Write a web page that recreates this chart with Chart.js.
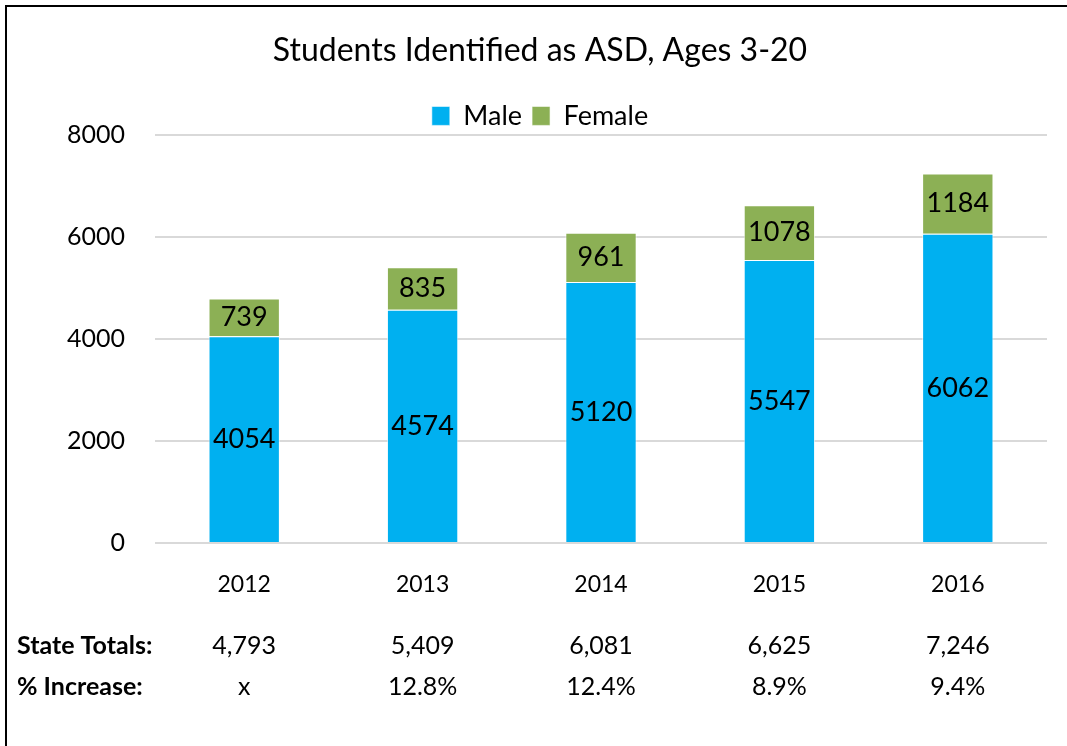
<!DOCTYPE html>
<html>
<head>
<meta charset="utf-8">
<script src="https://cdn.jsdelivr.net/npm/chart.js@4.4.1/dist/chart.umd.min.js"></script>
<style>
  body { margin: 0; background: #fff; }
  #wrap { position: relative; width: 1067px; height: 746px; overflow: hidden; }
  #frame { position: absolute; left: 5px; top: 5px; width: 1100px; height: 800px;
           border-top: 2px solid #000; border-left: 2px solid #000; }
  canvas { position: absolute; left: 0; top: 0; }
</style>
</head>
<body>
<div id="wrap">
  <div id="frame"></div>
  <canvas id="asdChart" width="1067" height="746"></canvas>
</div>
<script>
// data
const years = ["2012", "2013", "2014", "2015", "2016"];
const maleCounts = [4054, 4574, 5120, 5547, 6062];
const femaleCounts = [739, 835, 961, 1078, 1184];
const stateTotals = ["4,793", "5,409", "6,081", "6,625", "7,246"];
const pctIncrease = ["x", "12.8%", "12.4%", "8.9%", "9.4%"];
const yTicks = [0, 2000, 4000, 6000, 8000];

const FONT = "Lato, 'Open Sans', sans-serif";

// labels in the middle of each stacked segment
const segmentLabels = {
  id: "segmentLabels",
  afterDatasetsDraw(chart) {
    const ctx = chart.ctx;
    ctx.save();
    ctx.font = "27px " + FONT;
    ctx.fillStyle = "#000";
    ctx.textAlign = "center";
    ctx.textBaseline = "middle";
    chart.data.datasets.forEach((ds, di) => {
      chart.getDatasetMeta(di).data.forEach((bar, i) => {
        ctx.fillText(ds.data[i], bar.x, (bar.y + bar.base) / 2);
      });
    });
    ctx.restore();
  },
};

// the two rows of text under the chart
const summaryRows = {
  id: "summaryRows",
  afterDraw(chart) {
    const ctx = chart.ctx;
    const x = chart.scales.x;
    const rows = [
      { label: "State Totals:", vals: stateTotals, y: 646 },
      { label: "% Increase:", vals: pctIncrease, y: 687 },
    ];
    ctx.save();
    ctx.fillStyle = "#000";
    ctx.textBaseline = "middle";
    rows.forEach((r) => {
      ctx.font = "bold 25px " + FONT;
      ctx.textAlign = "left";
      ctx.fillText(r.label, 17, r.y);
      ctx.font = "25px " + FONT;
      ctx.textAlign = "center";
      r.vals.forEach((v, i) => {
        ctx.fillText(v, x.getPixelForValue(i), r.y);
      });
    });
    ctx.restore();
  },
};

new Chart(document.getElementById("asdChart").getContext("2d"), {
  type: "bar",
  data: {
    labels: years,
    datasets: [
      {
        label: "Male",
        data: maleCounts,
        backgroundColor: "#00B0F0",
        borderColor: "rgba(255,255,255,0.6)",
        borderWidth: 1,
        barPercentage: 0.4,
        categoryPercentage: 1,
      },
      {
        label: "Female",
        data: femaleCounts,
        backgroundColor: "#8CB055",
        borderColor: "rgba(255,255,255,0.6)",
        borderWidth: 1,
        barPercentage: 0.4,
        categoryPercentage: 1,
      },
    ],
  },
  options: {
    responsive: false,
    animation: false,
    layout: { padding: { left: 33, right: 20, top: 0, bottom: 139 } },
    plugins: {
      title: {
        display: true,
        text: "Students Identified as ASD, Ages 3-20",
        color: "#000",
        font: { family: FONT, size: 32, weight: "normal" },
        padding: { top: 31, bottom: 23 },
      },
      legend: {
        display: true,
        maxHeight: 42.6,
        labels: {
          color: "#000",
          font: { family: FONT, size: 27 },
          boxWidth: 18,
          boxHeight: 19,
          padding: 10,
        },
      },
      tooltip: { enabled: false },
    },
    scales: {
      x: {
        stacked: true,
        grid: { display: false },
        border: { display: false },
        ticks: { color: "#000", font: { family: FONT, size: 23 }, padding: 20 },
        afterFit: (s) => { s.height = 64; },
      },
      y: {
        stacked: true,
        min: 0,
        max: 8000,
        afterBuildTicks: (s) => { s.ticks = yTicks.map((v) => ({ value: v })); },
        grid: { color: "#D9D9D9", lineWidth: 2, drawTicks: false },
        border: { display: false },
        ticks: {
          color: "#000",
          font: { family: FONT, size: 25 },
          padding: 30,
          callback: (v) => String(v),
        },
        afterFit: (s) => { s.width = 122; },
      },
    },
  },
  plugins: [segmentLabels, summaryRows],
});
</script>
</body>
</html>
